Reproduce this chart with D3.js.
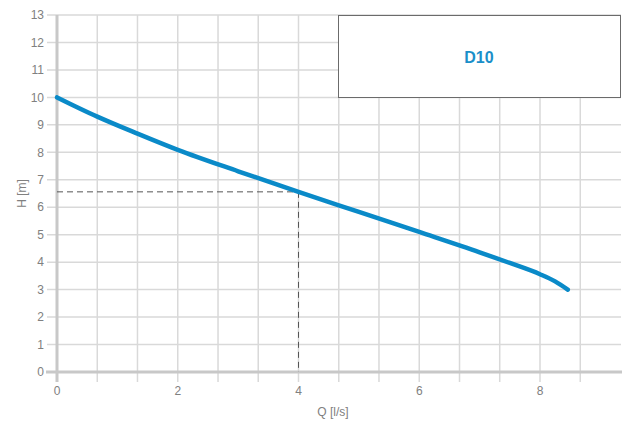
<!DOCTYPE html>
<html><head><meta charset="utf-8">
<script src="https://cdn.jsdelivr.net/npm/d3@7"></script>
<style>body{margin:0;background:#fff}svg{display:block}text{font-family:"Liberation Sans",Arial,sans-serif}</style>
</head><body><svg id="c" width="632" height="421"></svg>
<script>
const qValues = [0, 0.667, 1.333, 2, 3, 4, 5, 6, 7, 7.5, 8, 8.25, 8.46];
const hValues = [10, 9.3, 8.68, 8.09, 7.31, 6.56, 5.83, 5.1, 4.36, 3.97, 3.56, 3.3, 3.0];
const xTicks = [0, 2, 4, 6, 8];
const yTicks = [0,1,2,3,4,5,6,7,8,9,10,11,12,13];
const xGrid = [0.667,1.333,2,2.667,3.333,4,4.667,5.333,6,6.667,7.333,8,8.667];
const dutyQ = [4];
const dutyH = [6.56];
const legendLabel = ["D10"];

const svg = d3.select("#c");
const x = d3.scaleLinear().domain([0, 8]).range([57, 540]);
const y = d3.scaleLinear().domain([0, 13]).range([372, 15]);
const gridCol = "#d9d9d9", axisCol = "#c8c8c8", txt = "#808080";

svg.append("g").selectAll("line").data(xGrid).join("line")
  .attr("x1", d => x(d)).attr("x2", d => x(d)).attr("y1", y(13)).attr("y2", 382)
  .attr("stroke", gridCol).attr("stroke-width", 1.5);
svg.append("g").selectAll("line").data(yTicks.filter(d => d > 0)).join("line")
  .attr("x1", 47).attr("x2", 621).attr("y1", d => y(d)).attr("y2", d => y(d))
  .attr("stroke", gridCol).attr("stroke-width", 1.5);

svg.append("line").attr("x1", x(0)).attr("x2", x(0)).attr("y1", y(13)).attr("y2", 382)
  .attr("stroke", axisCol).attr("stroke-width", 3);
svg.append("line").attr("x1", 46).attr("x2", 622).attr("y1", y(0)).attr("y2", y(0))
  .attr("stroke", axisCol).attr("stroke-width", 3);

svg.append("g").selectAll("text").data(yTicks).join("text")
  .attr("x", 44).attr("y", d => y(d)).attr("dy", "0.35em").attr("text-anchor", "end")
  .attr("font-size", 12).attr("fill", txt).text(d => d);
svg.append("g").selectAll("text").data(xTicks).join("text")
  .attr("x", d => x(d)).attr("y", 391).attr("dy", "0.35em").attr("text-anchor", "middle")
  .attr("font-size", 12).attr("fill", txt).text(d => d);

svg.append("text").attr("x", 333).attr("y", 416).attr("text-anchor", "middle")
  .attr("font-size", 12).attr("fill", txt).text("Q [l/s]");
svg.append("text").attr("transform", `translate(26,${y(6.5)}) rotate(-90)`).attr("text-anchor", "middle")
  .attr("font-size", 12).attr("fill", txt).text("H [m]");

svg.append("rect").attr("x", 338.5).attr("y", 15.5).attr("width", 282).attr("height", 82)
  .attr("fill", "#fff").attr("stroke", "#6b6b6b").attr("stroke-width", 1);
svg.append("text").attr("x", 479).attr("y", 57).attr("dy", "0.35em").attr("text-anchor", "middle")
  .attr("font-size", 16).attr("font-weight", "bold").attr("fill", "#1a8fc9").text(legendLabel[0]);

svg.append("line").attr("x1", x(0)).attr("x2", x(dutyQ[0])).attr("y1", y(dutyH[0])).attr("y2", y(dutyH[0]))
  .attr("stroke", "#555").attr("stroke-width", 1).attr("stroke-dasharray", "6,4");
svg.append("line").attr("x1", x(dutyQ[0])).attr("x2", x(dutyQ[0])).attr("y1", y(dutyH[0])).attr("y2", y(0))
  .attr("stroke", "#555").attr("stroke-width", 1).attr("stroke-dasharray", "6,4");

const pts = qValues.map((q, i) => [q, hValues[i]]);
svg.append("path").datum(pts)
  .attr("d", d3.line().x(d => x(d[0])).y(d => y(d[1])).curve(d3.curveMonotoneX))
  .attr("fill", "none").attr("stroke", "#0a8ac8").attr("stroke-width", 4.5).attr("stroke-linecap", "round");
</script></body></html>
